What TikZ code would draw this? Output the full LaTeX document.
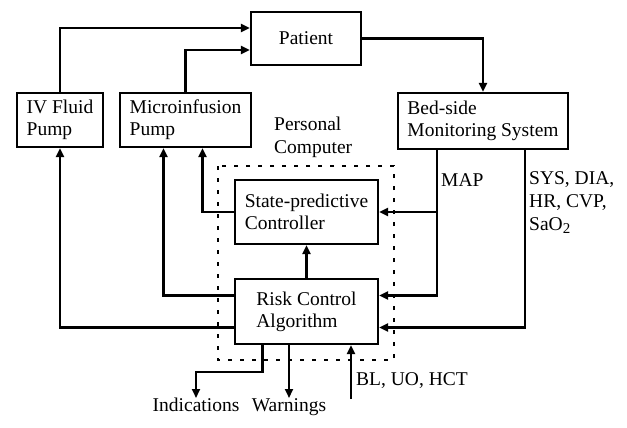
\documentclass[tikz,border=0pt]{standalone}
\usepackage{fontspec}
\setmainfont{Liberation Serif}
\usetikzlibrary{arrows.meta}
\tikzset{
  blk/.style={draw, line width=2.2pt, align=left, inner sep=0pt,
    font=\fontsize{19.5}{22}\selectfont},
  lbl/.style={align=left, inner sep=0pt, font=\fontsize{19.5}{23}\selectfont},
  arr/.style={line width=2.2pt, -{Triangle[length=9pt,width=8pt]}},
  pcbox/.style={line width=2.2pt, dash pattern=on 4pt off 8pt}
}
\begin{document}
\begin{tikzpicture}[x=1pt,y=-1pt]
\useasboundingbox (0,0) rectangle (627,428);
% blocks
\node[blk, minimum width=110pt, minimum height=53pt] (patient) at (306,38.5) {Patient};
\node[blk, minimum width=86pt, minimum height=54pt] (iv) at (60,120) {IV Fluid\\Pump};
\node[blk, minimum width=131pt, minimum height=54pt] (micro) at (185.5,120) {Microinfusion\\Pump};
\node[blk, minimum width=170pt, minimum height=56pt] (bed) at (483,121) {Bed-side\\Monitoring System};
\node[blk, minimum width=143pt, minimum height=64pt] (state) at (306.5,212) {State-predictive\\Controller};
\node[blk, minimum width=143pt, minimum height=65pt] (risk) at (306.5,311.5) {Risk Control\\Algorithm};
% personal computer boundary
\draw[pcbox] (218,166) rectangle (394,360);
\node[lbl, anchor=west] (pc) at (274,137) {Personal\\Computer};
% labels
\node[lbl, anchor=west] (map) at (441,180) {MAP};
\node[lbl, anchor=north west] (sys) at (529,171) {SYS, DIA,\\HR, CVP,\\SaO\raisebox{-0.35ex}{\fontsize{15}{15}\selectfont 2}};
\node[lbl, anchor=west] (bl) at (356,381) {BL, UO, HCT};
\node[lbl, anchor=north] (ind) at (196,398) {Indications};
\node[lbl, anchor=north] (warn) at (289,398) {Warnings};
% helper coordinates
\coordinate (mapx) at (437,0);
\coordinate (sysx) at (525,0);
\coordinate (blstart) at (351,399);
% connectors
\draw[arr] (iv.north) |- (patient.west |- 0,28);
\draw[arr] (micro.north) |- (patient.west |- 0,50);
\draw[arr] (patient.east) -| (bed.north);
\draw[arr] (bed.south -| mapx) |- (state.east);
\draw[arr] (mapx |- state.east) |- ([yshift=16pt]risk.east);
\draw[arr] (bed.south -| sysx) |- ([yshift=-16pt]risk.east);
\draw[arr] (state.west) -| ([xshift=17pt]micro.south);
\draw[arr] ([yshift=16pt]risk.west) -| ([xshift=-22pt]micro.south);
\draw[arr] ([yshift=-16pt]risk.west) -| (iv.south);
\draw[arr] (risk.north) -- (state.south);
\draw[arr] ([xshift=-44pt]risk.south) -- ++(0,27) -| (ind.north);
\draw[arr] (risk.south -| warn.north) -- (warn.north);
\draw[arr] (blstart) -- (blstart |- risk.south);
\end{tikzpicture}
\end{document}
